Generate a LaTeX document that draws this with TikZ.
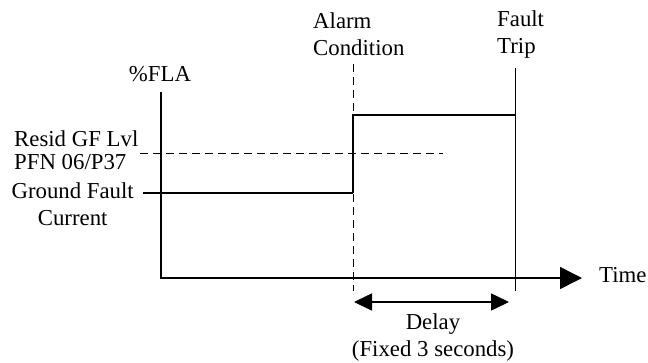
\documentclass[tikz,border=0pt]{standalone}
\usepackage{fontspec}
\setmainfont{Liberation Serif}
\usetikzlibrary{arrows.meta,positioning}

\begin{document}
\begin{tikzpicture}[x=1pt, y=-1pt,
  every node/.style={font=\fontsize{22.8}{26.5}\selectfont, inner sep=0pt},
  axis/.style={line width=1.5pt, -{Triangle[length=22pt,width=22pt]}},
  level/.style={line width=2pt},
  mark line/.style={line width=1pt, dash pattern=on 8pt off 5pt},
  span/.style={line width=1.6pt, {Triangle[length=18pt,width=17pt]}-{Triangle[length=18pt,width=17pt]}}]
\useasboundingbox (0,0) rectangle (648,362);
% axes
\coordinate (origin) at (161,278);
\coordinate (ytop) at (161,92);
\coordinate (xend) at (582,278);
\draw[axis] (ytop) -- (origin) -- (xend);
\node[anchor=base west] (time) at (599,282) {Time};
\node[anchor=base] (fla) at (160,81) {\%FLA};
% event markers
\coordinate (alarmtop) at (353,64);
\coordinate (alarmbot) at (353,291);
\coordinate (triptop) at (515,68);
\coordinate (tripbot) at (515,291);
\draw[mark line] (alarmtop) -- (alarmbot);
\draw[line width=1pt] (triptop) -- (tripbot);
\node[anchor=base west, align=left] (alarm) at (313,55) {Alarm\\Condition};
\node[anchor=base west, align=left] (trip) at (497,53) {Fault\\Trip};
% threshold level
\coordinate (residl) at (140,153);
\coordinate (residr) at (443,153);
\draw[mark line] (residl) -- (residr);
\node[anchor=base west, align=left, font=\fontsize{22.8}{23}\selectfont] (resid) at (14,169) {Resid GF Lvl\\PFN 06/P37};
% ground fault current
\coordinate (gfl) at (143,193);
\coordinate (step) at (353,193);
\coordinate (stepup) at (353,115);
\coordinate (tripup) at (515,115);
\draw[line width=1.6pt] (gfl) -- (step);
\draw[level] (step) -- (stepup) -- (tripup);
\node[anchor=base east, align=center] (gfc) at (134,225) {Ground Fault\\Current};
% delay
\coordinate (dl) at (354,302);
\coordinate (dr) at (509,302);
\draw[span] (dl) -- (dr);
\node[anchor=base, align=center] (delay) at (433,356) {Delay\\(Fixed 3 seconds)};
\end{tikzpicture}
\end{document}
